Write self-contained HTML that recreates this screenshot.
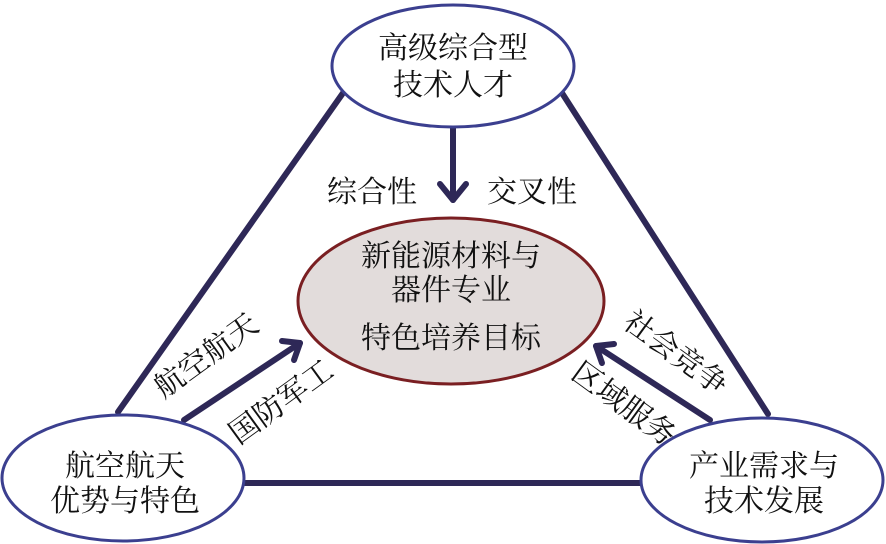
<!DOCTYPE html>
<html><head><meta charset="utf-8"><style>
html,body{margin:0;padding:0;background:#fff}
svg{display:block}
text{font-family:"Liberation Serif","Noto Serif CJK SC",serif;font-size:30px;fill:#111}
</style></head><body>
<svg width="886" height="544" viewBox="0 0 886 544" xmlns="http://www.w3.org/2000/svg">
<g stroke="#2e2857" stroke-width="6" fill="none" stroke-linecap="round">
<line x1="118" y1="412" x2="343" y2="93"/>
<line x1="562" y1="93" x2="768" y2="414"/>
<line x1="245" y1="483" x2="641" y2="483"/>
<line x1="453" y1="128" x2="453" y2="200"/>
<polyline points="440,184 453,200 466,184" stroke-linejoin="round"/>
<line x1="184" y1="420" x2="300" y2="343"/>
<polyline points="282,341 300,343 294,360" stroke-linejoin="round"/>
<line x1="710" y1="420" x2="596" y2="346"/>
<polyline points="602,363 596,346 614,344" stroke-linejoin="round"/>
</g>
<ellipse cx="453" cy="66" rx="121" ry="61" fill="#fff" stroke="#3b3f8f" stroke-width="3"/>
<ellipse cx="451" cy="301" rx="153" ry="83" fill="#e2dcdb" stroke="#7a1f22" stroke-width="3"/>
<ellipse cx="123" cy="478" rx="121" ry="63" fill="#fff" stroke="#3b3f8f" stroke-width="3"/>
<ellipse cx="762" cy="480" rx="121" ry="62" fill="#fff" stroke="#3b3f8f" stroke-width="3"/>
<g text-anchor="middle">
<text x="453" y="58">高级综合型</text>
<text x="453" y="95">技术人才</text>
<text x="372" y="202">综合性</text>
<text x="532" y="202">交叉性</text>
<text x="451" y="266">新能源材料与</text>
<text x="451" y="300">器件专业</text>
<text x="451" y="348">特色培养目标</text>
<text x="125" y="476">航空航天</text>
<text x="125" y="511">优势与特色</text>
<text x="764" y="476">产业需求与</text>
<text x="764" y="511">技术发展</text>
<text transform="translate(212,364) rotate(-36)">航空航天</text>
<text transform="translate(287,410) rotate(-36)">国防军工</text>
<text transform="translate(670,361) rotate(36)">社会竞争</text>
<text transform="translate(618,412) rotate(36)">区域服务</text>
</g>
</svg>
</body></html>
